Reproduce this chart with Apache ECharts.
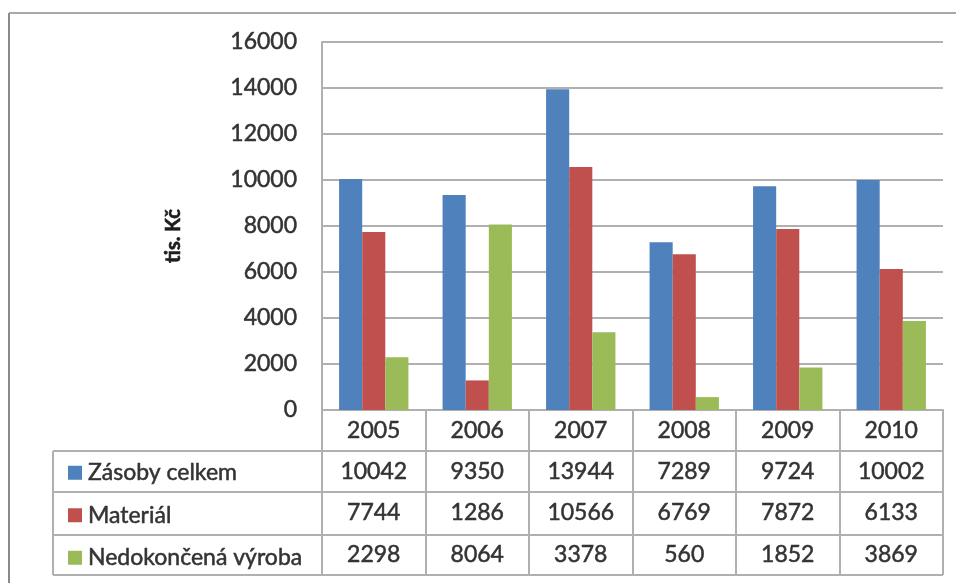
<!DOCTYPE html>
<html>
<head>
<meta charset="utf-8">
<script src="https://cdn.jsdelivr.net/npm/echarts@6/dist/echarts.min.js"></script>
<style>
  html, body { margin: 0; padding: 0; background: #ffffff; }
  #chart { width: 956px; height: 583px; }
</style>
</head>
<body>
<div id="chart"></div>
<script>
// Years on the category axis
const years = ['2005', '2006', '2007', '2008', '2009', '2010'];

// Inventory values in thousands of CZK
const zasobyCelkem = [10042, 9350, 13944, 7289, 9724, 10002];
const material = [7744, 1286, 10566, 6769, 7872, 6133];
const nedokoncenaVyroba = [2298, 8064, 3378, 560, 1852, 3869];

const seriesNames = ['Zásoby celkem', 'Materiál', 'Nedokončená výroba'];
const seriesValues = [zasobyCelkem, material, nedokoncenaVyroba];
const seriesColors = ['#4F81BD', '#C0504D', '#9BBB59'];

// Value axis range
const yMin = 0;
const yMax = 16000;
const yStep = 2000;

const FONT = 'Lato, "Open Sans", sans-serif';
const FS = 23;
const TEXT = '#333333';
const LINE = '#b0b0b0';

// Slightly heavier strokes for the regular-weight labels
const heavy = { textBorderColor: TEXT, textBorderWidth: 0.5 };

const chart = echarts.init(document.getElementById('chart'), null, { renderer: 'canvas' });

// Rows of the data table below the plot: one extra category axis per series,
// whose labels print that series' value for each year.
const rowMargins = [62, 103, 145];
const tableAxes = seriesValues.map((vals, k) => ({
  type: 'category',
  data: years,
  position: 'bottom',
  axisLine: { show: false },
  axisTick: { show: false },
  splitLine: { show: false },
  axisLabel: Object.assign({
    interval: 0,
    margin: rowMargins[k],
    verticalAlign: 'middle',
    lineHeight: FS,
    fontSize: FS,
    fontFamily: FONT,
    color: TEXT,
    formatter: (v, i) => String(vals[i])
  }, heavy)
}));

// Table frame (horizontal rules and the left edge of the legend column)
const tableLeft = 53, tableRight = 943;
const ruleYs = [451, 492, 535, 575];
const graphics = ruleYs.map(y => ({
  type: 'line',
  shape: { x1: tableLeft, y1: y, x2: tableRight, y2: y },
  style: { stroke: LINE, lineWidth: 2 },
  silent: true
}));
graphics.push({
  type: 'line',
  shape: { x1: tableLeft, y1: ruleYs[0], x2: tableLeft, y2: ruleYs[ruleYs.length - 1] },
  style: { stroke: LINE, lineWidth: 2 },
  silent: true
});
// Outer chart frame
graphics.push({
  type: 'line',
  shape: { x1: 9, y1: 13, x2: 9, y2: 583 },
  style: { stroke: '#8a8a8a', lineWidth: 2 },
  silent: true
});
graphics.push({
  type: 'line',
  shape: { x1: 9, y1: 13, x2: 956, y2: 13 },
  style: { stroke: '#a8a8a8', lineWidth: 2 },
  silent: true
});

chart.setOption({
  animation: false,
  backgroundColor: '#ffffff',
  textStyle: { fontFamily: FONT },
  grid: { left: 322, right: 13, top: 42, bottom: 173, containLabel: false },
  legend: {
    orient: 'vertical',
    left: 63,
    top: 456,
    itemGap: 19,
    itemWidth: 14,
    itemHeight: 14,
    icon: 'rect',
    selectedMode: false,
    textStyle: Object.assign({ fontSize: FS, fontFamily: FONT, color: TEXT, lineHeight: FS, padding: [0, 0, 0, 1] }, heavy),
    data: seriesNames
  },
  xAxis: [{
    type: 'category',
    data: years,
    position: 'bottom',
    axisLine: { show: true, lineStyle: { color: LINE, width: 2 } },
    axisTick: { show: true, length: 165, lineStyle: { color: LINE, width: 2 } },
    splitLine: { show: false },
    axisLabel: Object.assign({
      interval: 0,
      margin: 21,
      verticalAlign: 'middle',
      lineHeight: FS,
      fontSize: FS,
      fontFamily: FONT,
      color: TEXT
    }, heavy)
  }].concat(tableAxes),
  yAxis: {
    type: 'value',
    min: yMin,
    max: yMax,
    interval: yStep,
    name: 'tis. Kč',
    nameLocation: 'middle',
    nameRotate: 90,
    nameGap: 138,
    nameTextStyle: {
      fontSize: 20,
      fontWeight: 'bold',
      fontFamily: FONT,
      color: '#1e1e1e',
      textBorderColor: '#1e1e1e',
      textBorderWidth: 0.6,
      padding: [0, 20, 0, 0]
    },
    axisLine: { show: true, lineStyle: { color: LINE, width: 2 } },
    axisTick: { show: false },
    splitLine: { show: true, lineStyle: { color: LINE, width: 2 } },
    axisLabel: Object.assign({
      fontSize: FS,
      fontFamily: FONT,
      color: TEXT,
      margin: 25,
      formatter: v => String(v)
    }, heavy)
  },
  series: seriesNames.map((name, k) => ({
    name: name,
    type: 'bar',
    xAxisIndex: 0,
    data: seriesValues[k],
    barGap: '0%',
    barCategoryGap: '33%',
    itemStyle: { color: seriesColors[k] }
  })),
  graphic: graphics
});
</script>
</body>
</html>
